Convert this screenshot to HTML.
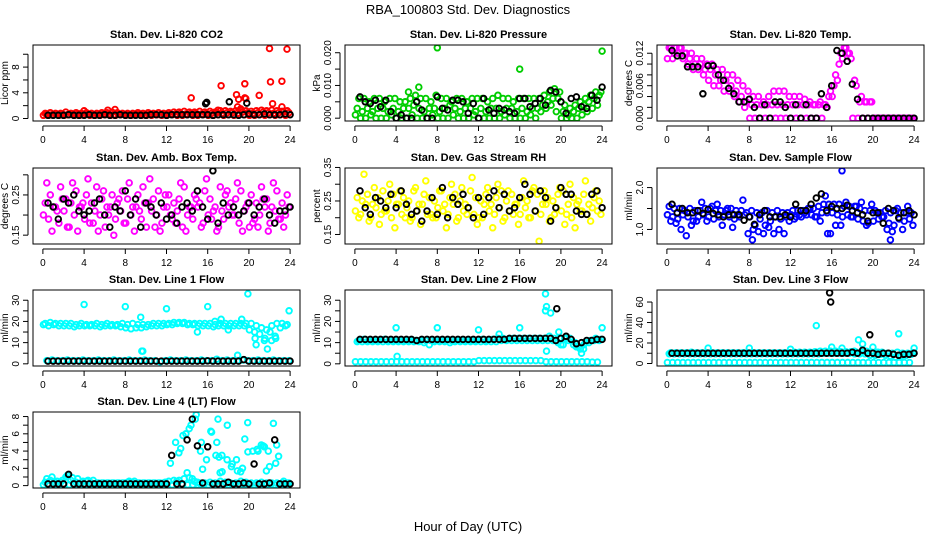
<!DOCTYPE html>
<html><head><meta charset="utf-8"><style>
html,body{margin:0;padding:0;background:#fff;}
svg{display:block;font-family:"Liberation Sans",sans-serif;}
</style></head><body>
<svg id="chart" width="936" height="540" viewBox="0 0 936 540">
<rect width="936" height="540" fill="#fff"/>
<text x="468" y="14" text-anchor="middle" font-size="13">RBA_100803  Std. Dev. Diagnostics</text>
<text x="468" y="531" text-anchor="middle" font-size="13">Hour of Day (UTC)</text>
</svg>
<script>
// half-hour grid (hours of day)
const hours = [0,0.5,1,1.5,2,2.5,3,3.5,4,4.5,5,5.5,6,6.5,7,7.5,8,8.5,9,9.5,10,10.5,11,11.5,12,12.5,13,13.5,14,14.5,15,15.5,16,16.5,17,17.5,18,18.5,19,19.5,20,20.5,21,21.5,22,22.5,23,23.5];
const xTicks = [0,4,8,12,16,20,24];

// Panel 1 CO2
const co2_c1 = [0.5,0.5,0.6,0.5,0.5,0.6,0.5,0.5,0.6,0.5,0.5,0.5,0.6,0.5,0.5,0.6,0.5,0.5,0.6,0.5,0.5,0.5,0.6,0.5,0.5,0.6,0.5,0.5,0.6,0.5,0.5,0.6,0.5,0.5,0.6,0.5,0.6,0.5,0.6,0.6,0.5,0.5,0.6,0.5,0.6,0.5,0.6,0.5];
const co2_c2 = [0.8,0.9,0.8,0.8,1.0,0.8,0.9,0.8,0.9,0.8,0.8,0.9,0.9,1.0,0.9,0.8,0.8,0.8,0.9,0.8,0.9,0.8,0.9,0.8,0.9,1.0,1.0,1.1,1.0,1.0,1.1,1.0,1.1,1.0,1.2,1.2,1.1,1.2,1.3,1.2,1.1,1.2,1.3,1.2,1.3,1.2,1.1,1.2];
const co2_c3 = [0.7,0.6,0.7,0.7,0.6,0.7,0.7,0.6,0.7,0.6,0.7,0.7,0.7,0.6,0.7,0.7,0.6,0.7,0.7,0.6,0.7,0.7,0.6,0.7,0.7,0.7,0.8,0.7,0.8,0.8,0.7,0.8,0.8,0.9,0.8,0.9,0.9,0.8,1.0,0.9,0.8,0.9,1.0,0.9,0.8,0.9,1.0,0.9];
const co2_k = [0.5,0.5,0.5,0.5,0.6,0.5,0.5,0.5,0.6,0.5,0.5,0.6,0.5,0.5,0.6,0.5,0.5,0.5,0.5,0.5,0.6,0.6,0.6,0.5,0.6,0.6,0.6,0.6,0.6,0.6,0.6,0.6,0.5,0.6,0.6,0.6,0.6,0.5,0.6,0.7,0.6,0.6,0.7,0.6,0.6,0.6,0.7,0.6];
const co2_ox = [14.4,17.3,18.8,19.0,19.6,19.6,19.7,21.0,22.0,22.1,22.3,23.2,23.7,18.9,19.2,4.0,7.0,6.3,17.0,23.2];
const co2_oy = [3.2,5.1,3.7,3.0,5.4,3.2,3.1,3.6,10.9,5.7,2.3,5.8,10.8,1.8,1.5,1.2,1.4,1.3,1.3,1.8];
const co2_kx = [15.8,15.9,18.1,19.8];
const co2_ky = [2.3,2.5,2.6,2.4];

// Panel 2 Pressure
const pr_c1 = [0.001,0,0,0.001,0,0,0,0.001,0,0,0,0.001,0,0,0,0.001,0,0,0,0.001,0,0,0,0.001,0,0,0,0,0,0.001,0,0,0,0,0.001,0,0.002,0.003,0.004,0.002,0,0,0,0,0.001,0.002,0.003,0.004];
const pr_c2 = [0.003,0.002,0.003,0.002,0.003,0.003,0.002,0.003,0.002,0.003,0.003,0.004,0.003,0.002,0.003,0.003,0.002,0.003,0.004,0.003,0.002,0.003,0.003,0.002,0.003,0.002,0.003,0.003,0.002,0.003,0.003,0.002,0.003,0.002,0.003,0.003,0.004,0.005,0.006,0.006,0.002,0.001,0.002,0.003,0.004,0.005,0.006,0.007];
const pr_c3 = [0.006,0.006,0.005,0.006,0.006,0.005,0.006,0.006,0.005,0.005,0.006,0.007,0.006,0.006,0.005,0.007,0.006,0.006,0.005,0.006,0.006,0.005,0.006,0.006,0.006,0.005,0.006,0.007,0.006,0.006,0.005,0.006,0.006,0.006,0.006,0.006,0.007,0.008,0.009,0.008,0.004,0.003,0.004,0.005,0.006,0.007,0.008,0.008];
const pr_k = [0.0065,0.005,0.0045,0.0055,0.0035,0.0055,0.002,0,0.001,0,0,0.005,0.0025,0,0,0.0065,0.003,0.0025,0.0055,0.0055,0.005,0.0015,0.0045,0,0.006,0.0025,0.0015,0.003,0.0025,0.002,0.0015,0.006,0.006,0.0035,0.0045,0.006,0.004,0.0085,0.008,0.005,0.0015,0.006,0.0065,0.0035,0.003,0.007,0.0055,0.0095];
const pr_ox = [8.0,16.0,24.0,6.2,5.2];
const pr_oy = [0.0215,0.015,0.0205,0.0095,0.008];
const pr_kx = [];
const pr_ky = [];

// Panel 3 Li-820 Temp
const tp_c1 = [0.011,0.011,0.012,0.011,0.010,0.009,0.009,0.008,0.007,0.006,0.006,0.005,0.005,0.004,0.003,0.002,0,0,0,0,0,0,0,0,0,0,0,0,0,0,0,0.002,0.004,0.007,0.011,0.012,0,0,0,0,0,0,0,0,0,0,0,0];
const tp_c2 = [0.013,0.012,0.013,0.012,0.011,0.010,0.010,0.009,0.009,0.008,0.007,0.007,0.006,0.005,0.004,0.003,0.0025,0.0025,0.0025,0.0025,0.0025,0.0025,0.0025,0.0025,0.0025,0.0025,0.0025,0.0025,0.0025,0.0025,0.0025,0.004,0.006,0.010,0.013,0.012,0.007,0.003,0.003,0.003,0,0,0,0,0,0,0,0];
const tp_c3 = [0.013,0.013,0.013,0.012,0.012,0.011,0.011,0.010,0.010,0.009,0.009,0.008,0.008,0.007,0.006,0.005,0.004,0.004,0.003,0.004,0.005,0.005,0.005,0.004,0.004,0.004,0.0035,0.003,0.0025,0.003,0.0025,0.005,0.008,0.012,0.013,0.011,0.006,0.004,0.003,0.003,0,0,0,0,0,0,0,0];
const tp_k = [0.0125,0.0115,0.0115,0.0095,0.0095,0.0095,0.0045,0.0097,0.0097,0.008,0.007,0.0055,0.0045,0.003,0.003,0.0035,0.002,0,0.0025,0,0.003,0.003,0.002,0,0.0025,0,0.0025,0,0,0.0045,0.002,0.006,0.0125,0.012,0.0105,0.0063,0.0035,0,0,0,0,0,0,0,0,0,0,0];
const tp_ox = [];
const tp_oy = [];
const tp_kx = [];
const tp_ky = [];

// Panel 4 Amb. Box Temp
const ab_c1 = [0.20,0.19,0.22,0.18,0.21,0.17,0.20,0.22,0.19,0.18,0.21,0.20,0.17,0.22,0.19,0.21,0.18,0.20,0.22,0.19,0.17,0.21,0.20,0.18,0.22,0.19,0.21,0.17,0.20,0.19,0.22,0.18,0.20,0.21,0.17,0.19,0.22,0.20,0.18,0.21,0.17,0.19,0.20,0.22,0.18,0.21,0.19,0.20];
const ab_c2 = [0.23,0.25,0.22,0.27,0.24,0.23,0.26,0.22,0.25,0.23,0.27,0.24,0.22,0.25,0.23,0.26,0.24,0.22,0.25,0.27,0.23,0.24,0.26,0.22,0.25,0.23,0.24,0.27,0.22,0.25,0.23,0.26,0.24,0.22,0.27,0.25,0.23,0.24,0.26,0.22,0.25,0.23,0.27,0.24,0.22,0.26,0.23,0.25];
const ab_c3 = [0.28,0.16,0.21,0.24,0.17,0.28,0.16,0.23,0.29,0.18,0.16,0.26,0.20,0.15,0.24,0.18,0.28,0.16,0.21,0.23,0.29,0.17,0.16,0.25,0.20,0.18,0.28,0.16,0.22,0.24,0.17,0.29,0.19,0.16,0.21,0.26,0.20,0.28,0.16,0.23,0.18,0.17,0.24,0.16,0.28,0.19,0.17,0.22];
const ab_k = [0.23,0.22,0.19,0.24,0.23,0.25,0.21,0.20,0.21,0.23,0.24,0.20,0.17,0.22,0.21,0.26,0.20,0.24,0.17,0.23,0.22,0.20,0.23,0.19,0.20,0.18,0.22,0.23,0.21,0.26,0.22,0.19,0.31,0.18,0.23,0.20,0.22,0.20,0.21,0.23,0.20,0.22,0.24,0.20,0.18,0.21,0.21,0.22];
const ab_ox = [];
const ab_oy = [];
const ab_kx = [];
const ab_ky = [];

// Panel 5 Gas Stream RH
const rh_c1 = [0.22,0.21,0.24,0.20,0.23,0.21,0.22,0.20,0.24,0.21,0.23,0.20,0.22,0.24,0.21,0.20,0.23,0.22,0.21,0.24,0.20,0.22,0.23,0.21,0.20,0.24,0.22,0.21,0.23,0.20,0.22,0.24,0.21,0.23,0.20,0.22,0.21,0.24,0.20,0.23,0.22,0.21,0.20,0.24,0.22,0.21,0.23,0.22];
const rh_c2 = [0.26,0.25,0.27,0.24,0.26,0.28,0.25,0.27,0.24,0.26,0.25,0.28,0.24,0.27,0.26,0.25,0.28,0.24,0.26,0.27,0.25,0.24,0.28,0.26,0.25,0.27,0.24,0.26,0.28,0.25,0.27,0.24,0.26,0.25,0.28,0.27,0.24,0.26,0.25,0.27,0.28,0.24,0.26,0.25,0.27,0.24,0.26,0.25];
const rh_c3 = [0.20,0.33,0.19,0.29,0.18,0.22,0.30,0.17,0.28,0.20,0.19,0.29,0.18,0.31,0.21,0.20,0.28,0.17,0.30,0.19,0.29,0.21,0.32,0.18,0.20,0.29,0.17,0.30,0.19,0.28,0.21,0.18,0.31,0.20,0.29,0.13,0.28,0.19,0.21,0.29,0.18,0.30,0.17,0.22,0.31,0.19,0.28,0.21];
const rh_k = [0.28,0.23,0.21,0.26,0.25,0.23,0.27,0.23,0.28,0.24,0.21,0.22,0.19,0.22,0.26,0.21,0.29,0.20,0.26,0.24,0.27,0.23,0.20,0.26,0.21,0.26,0.28,0.23,0.27,0.22,0.23,0.26,0.30,0.27,0.22,0.28,0.26,0.19,0.23,0.29,0.27,0.27,0.22,0.21,0.21,0.27,0.28,0.23];
const rh_ox = [];
const rh_oy = [];
const rh_kx = [];
const rh_ky = [];

// Panel 6 Sample Flow
const sf_c1 = [1.35,1.3,1.25,1.35,1.3,1.2,1.3,1.35,1.3,1.25,1.3,1.35,1.3,1.25,1.3,1.35,1.3,1.1,1.25,1.1,1.2,1.3,1.25,1.3,1.35,1.3,1.3,1.35,1.35,1.3,1.4,1.4,1.4,1.35,1.3,1.35,1.3,1.25,1.2,1.15,1.2,1.25,1.3,1.15,1.1,1.25,1.2,1.25];
const sf_c2 = [1.55,1.5,1.5,1.45,1.5,1.45,1.45,1.5,1.5,1.45,1.45,1.45,1.5,1.45,1.45,1.4,1.45,1.4,1.4,1.45,1.4,1.45,1.4,1.4,1.45,1.45,1.45,1.5,1.5,1.55,1.6,1.6,1.6,1.6,1.55,1.55,1.55,1.5,1.45,1.45,1.45,1.4,1.45,1.4,1.45,1.4,1.4,1.4];
const sf_c3 = [1.2,1.15,1.0,0.85,1.1,1.2,1.65,1.2,1.55,1.6,1.1,1.5,1.05,1.35,1.7,0.9,1.0,0.95,0.9,1.05,0.9,1.0,0.9,1.2,1.25,1.35,1.4,1.5,1.3,1.2,1.8,0.9,1.1,1.1,1.65,1.3,1.55,1.65,1.1,1.6,1.4,1.3,1.0,0.95,1.5,1.0,1.55,1.1];
const sf_k = [1.6,1.4,1.5,1.4,1.4,1.45,1.38,1.48,1.38,1.35,1.3,1.35,1.35,1.35,1.22,1.3,1.12,1.35,1.45,1.3,1.3,1.3,1.35,1.3,1.6,1.45,1.45,1.6,1.75,1.85,1.45,1.55,1.5,1.5,1.58,1.45,1.4,1.35,1.2,1.4,1.4,1.15,1.5,1.45,1.28,1.4,1.45,1.35];
const sf_ox = [17.0,8.3,21.7,15.6];
const sf_oy = [2.4,0.75,0.75,0.9];
const sf_kx = [];
const sf_ky = [];

// Panel 7 Line 1 Flow
const l1_c1 = [18.5,18,18.5,18,18,18,17.5,18,18,18,18,17.5,18,18,18,17.5,17,16.5,17,17,17.5,18,18,18,18.5,18.5,19,19,18.5,18.5,18,18,18,17.5,18,18,18,18,18,18,16,15,14,12,15,13,17,18];
const l1_c2 = [19,19.5,19,19,19,19,18.5,19,18.5,18.5,19,18.5,19,18.5,18.5,19,18.5,19,18.5,18.5,18.5,19,19,19,19,19.5,19.5,19.5,19,19,19,19,19,18.5,19,19,19,19,19,19,19,18,17,16,18,19,19,18.5];
const l1_c3 = [1.5,1.8,1.5,1.5,1.8,1.5,1.5,1.8,1.5,1.5,1.8,1.5,1.5,1.8,1.5,1.5,1.8,1.5,1.5,1.8,1.5,1.5,1.0,1.5,1.8,1.5,1.5,1.8,1.5,1.5,1.8,1.5,1.5,2.2,1.5,1.8,1.5,1.5,1.8,1.5,1.5,1.8,1.5,1.5,1.8,1.5,1.5,1.5];
const l1_k = [1.3,1.3,1.3,1.3,1.3,1.3,1.3,1.3,1.3,1.3,1.3,1.3,1.3,1.3,1.3,1.3,1.3,1.3,1.3,1.3,1.3,1.3,1.3,1.3,1.3,1.3,1.3,1.3,1.3,1.3,1.3,1.4,1.3,1.3,1.3,1.3,1.3,1.3,2.0,1.3,1.3,1.3,1.3,1.3,1.3,1.3,1.3,1.3];
const l1_ox = [4.0,8.0,9.5,9.6,9.7,12.0,15.0,16.0,16.7,17.3,18.0,18.9,19.3,19.9,20.6,20.7,21.5,21.8,22.2,22.6,23.9];
const l1_oy = [28,27,22,6,6,26,15,27,20,21,16,4,21,33,12,9,11,7,11,12,25];
const l1_kx = [];
const l1_ky = [];

// Panel 8 Line 2 Flow
const l2_c1 = [1,1,1,1,1,1,1,1,1,1,1,1,1,1,1,1,1,1,1,1,1,1,1,1,1.5,1.5,1.5,1.5,1.5,1.5,1.5,1.5,1.5,1.5,1.5,1.5,1.5,1,1,1,1,1,1,1,1,1,0.8,0.8];
const l2_c2 = [10.5,10.5,10.5,10.5,10.5,10.5,10.5,10.5,10.5,10.5,10.5,10.5,10.5,10,9,10.5,10.5,10.5,10,10.5,10.5,10.5,10.5,10.5,10.5,10.5,10.5,10.5,11,11,11,11,11,11,11,11,11,11,11,10,9,11,9,8,9,10,11,11];
const l2_c3 = [11,11.5,11,11,11,11.5,11,11,11,11,11,11,11,11,11,11,11,11,11,11,11,11,11,11,11.5,11,11.5,12,12,11.5,12,12,12,12,12,12,12,13,12,12,12,12,10,7,10,11,12,11.5];
const l2_k = [11.5,11.5,11.5,11.5,11.5,11.5,11.5,11.5,11.5,11.5,11.5,11,11.5,11.5,11.5,11.5,11.5,11.5,11.5,11.5,11.5,11.5,11.5,11.5,11.5,11.5,11.5,11.5,11.5,12,12,12,12,12,12,12,12,12,11,12,13,11.5,9.5,10,11,11,11.5,11.5];
const l2_ox = [4.0,8.0,12.0,16.0,18.5,18.6,18.5,19.0,18.6,19.8,20.5,21.5,22.0,22.2,24.0,14.0,20.0,4.1];
const l2_oy = [17,17,16,17,33,27,25,24,6,15,12,8,5,7,17,14,9,3.5];
const l2_kx = [19.6];
const l2_ky = [26];

// Panel 9 Line 3 Flow
const l3_c1 = [1,1,1,1,1,1,1,1,1,1,1,1,1,1,1,1,1,1,1,1,1,1,1,1,1,1,1,1,1,1,1,1,1,1,1,1,1,1,1,1,1,1,1,1,1,1,1,1];
const l3_c2 = [9.5,9.5,9.5,9.5,9.5,9.5,9.5,9.5,9.5,9.5,9.5,9.5,9.5,9.5,9.5,9.5,9.5,9.5,9.5,9.5,9.5,9.5,9.5,9.5,9.5,9.5,9.5,9.5,9.5,9.5,10,10,10,10,10,10,9.5,9.5,9.5,8,8,9,8,7,6,7,8,9];
const l3_c3 = [10.5,10.5,10.5,10.5,11,10.5,10.5,10.5,10.5,10.5,10.5,10.5,10.5,10.5,10.5,10.5,10.5,10.5,10.5,10.5,10.5,10.5,10.5,10.5,11,11,11,11,11.5,12,12,12,12,11.5,11.5,11.5,11,11,12,11,11,11,10,10,11,10,10,10.5];
const l3_k = [10,10,10,10,10,10,10,10,10,10,10,10,10,10,10,10,10,10,10,10,10,10,10,10,10,10,10,10,10,10,10,10,10,10,10,11,10,13,10,10,9,10,10,9,8,9,9,10];
const l3_ox = [14.5,20.0,4.0,8.0,12.0,16.0,18.6,19.0,22.5,24.0,17.0,18.2,20.5];
const l3_oy = [37,16,15,15,14,16,23,19,29,15,15,12,11];
const l3_kx = [15.8,15.9,19.7];
const l3_ky = [69,60,28];

// Panel 10 Line 4 (LT) Flow
const l4_c1 = [0.1,0.1,0.1,0.1,0.1,0.1,0.1,0.1,0.1,0.1,0.1,0.1,0.1,0.1,0.1,0.1,0.1,0.1,0.1,0.1,0.1,0.1,0.1,0.1,0.1,0.1,0.1,0.1,0.1,0.1,0.1,0.1,0.1,0.1,0.1,0.1,0.1,0.1,0.1,0.1,0.1,0.1,0.1,0.1,0.1,0.1,0.1,0.1];
const l4_c2 = [0.4,0.6,0.3,0.4,1.0,0.6,0.4,0.3,0.5,0.3,0.3,0.3,0.3,0.3,0.3,0.3,0.4,0.3,0.3,0.3,0.3,0.3,0.3,0.3,0.5,0.6,0.6,0.8,0.9,0.5,0.3,0.3,0.4,0.3,0.5,0.4,0.3,0.3,0.5,0.4,0.3,0.3,0.4,0.3,0.3,0.3,0.3,0.3];
const l4_c3 = [0.8,1.0,0.5,0.6,1.2,0.9,0.8,0.5,0.6,0.6,0.3,0.3,0.3,0.3,0.3,0.3,0.5,0.5,0.3,0.3,0.3,0.3,0.3,0.4,2.6,5.0,4.3,6.0,7.0,8.2,5.0,3.0,6.2,5.0,3.5,3.0,2.5,1.7,2.0,7.3,4.0,4.0,4.6,4.0,7.2,3.4,0.5,0.3];
const l4_k = [0.2,0.2,0.2,0.2,1.3,0.2,0.2,0.2,0.2,0.2,0.2,0.2,0.2,0.2,0.2,0.2,0.2,0.2,0.2,0.2,0.2,0.2,0.2,0.2,3.5,0.2,0.2,5.3,7.7,4.6,0.3,4.5,0.2,0.2,0.2,0.4,0.2,0.2,0.3,0.2,2.5,0.2,0.2,0.3,5.3,0.2,0.2,0.2];
const l4_ox = [13.2,13.6,14.2,14.8,15.3,15.5,16.3,17.0,17.1,17.4,17.9,18.3,18.8,19.2,19.6,19.9,20.8,21.2,21.5,21.7,22.0,22.6,22.7,16.8,17.2,13.0,14.0,14.5,15.0];
const l4_oy = [3.8,5.8,6.6,7.7,4.0,1.9,6.3,7.7,3.3,1.6,7.0,2.2,3.0,1.6,5.4,3.9,4.2,4.7,4.5,1.7,2.2,2.6,4.7,3.5,1.5,0.5,1.5,0.8,0.4];
const l4_kx = [];
const l4_ky = [];

const panels = [
 {name:'co2', title:'Stan. Dev. Li-820 CO2', ylab:'Licor ppm', col:'#ff0000', ylim:[0.05,11.0], ticks:[0,2,4,6,8,10], labs:[0,4,8], fmt:v=>String(v), r:0,c:0, s:[co2_c1,co2_c2,co2_c3], k:co2_k, ox:co2_ox, oy:co2_oy, kx:co2_kx, ky:co2_ky},
 {name:'pressure', title:'Stan. Dev. Li-820 Pressure', ylab:'kPa', col:'#00cd00', ylim:[0,0.0215], ticks:[0,0.005,0.01,0.015,0.02], labs:[0,0.01,0.02], fmt:v=>v.toFixed(3), r:0,c:1, s:[pr_c1,pr_c2,pr_c3], k:pr_k, ox:pr_ox, oy:pr_oy, kx:pr_kx, ky:pr_ky},
 {name:'li820-temp', title:'Stan. Dev. Li-820 Temp.', ylab:'degrees C', col:'#ff00ff', ylim:[0,0.013], ticks:[0,0.002,0.004,0.006,0.008,0.01,0.012], labs:[0,0.006,0.012], fmt:v=>v.toFixed(3), r:0,c:2, s:[tp_c1,tp_c2,tp_c3], k:tp_k, ox:tp_ox, oy:tp_oy, kx:tp_kx, ky:tp_ky},
 {name:'amb-box-temp', title:'Stan. Dev. Amb. Box Temp.', ylab:'degrees C', col:'#ff00ff', ylim:[0.135,0.31], ticks:[0.15,0.2,0.25,0.3], labs:[0.15,0.25], fmt:v=>v.toFixed(2), r:1,c:0, s:[ab_c1,ab_c2,ab_c3], k:ab_k, ox:ab_ox, oy:ab_oy, kx:ab_kx, ky:ab_ky},
 {name:'gas-rh', title:'Stan. Dev. Gas Stream RH', ylab:'percent', col:'#ffff00', ylim:[0.13,0.34], ticks:[0.15,0.2,0.25,0.3,0.35], labs:[0.15,0.25,0.35], fmt:v=>v.toFixed(2), r:1,c:1, s:[rh_c1,rh_c2,rh_c3], k:rh_k, ox:rh_ox, oy:rh_oy, kx:rh_kx, ky:rh_ky},
 {name:'sample-flow', title:'Stan. Dev. Sample Flow', ylab:'ml/min', col:'#0000ff', ylim:[0.72,2.4], ticks:[1.0,1.5,2.0], labs:[1.0,2.0], fmt:v=>v.toFixed(1), r:1,c:2, s:[sf_c1,sf_c2,sf_c3], k:sf_k, ox:sf_ox, oy:sf_oy, kx:sf_kx, ky:sf_ky},
 {name:'line1-flow', title:'Stan. Dev. Line 1 Flow', ylab:'ml/min', col:'#00ffff', ylim:[0.3,33.5], ticks:[0,5,10,15,20,25,30], labs:[0,10,20,30], fmt:v=>String(v), r:2,c:0, s:[l1_c1,l1_c2,l1_c3], k:l1_k, ox:l1_ox, oy:l1_oy, kx:l1_kx, ky:l1_ky},
 {name:'line2-flow', title:'Stan. Dev. Line 2 Flow', ylab:'ml/min', col:'#00ffff', ylim:[0.3,33.5], ticks:[0,5,10,15,20,25,30], labs:[0,10,20,30], fmt:v=>String(v), r:2,c:1, s:[l2_c1,l2_c2,l2_c3], k:l2_k, ox:l2_ox, oy:l2_oy, kx:l2_kx, ky:l2_ky},
 {name:'line3-flow', title:'Stan. Dev. Line 3 Flow', ylab:'ml/min', col:'#00ffff', ylim:[0.3,69], ticks:[0,10,20,30,40,50,60], labs:[0,20,40,60], fmt:v=>String(v), r:2,c:2, s:[l3_c1,l3_c2,l3_c3], k:l3_k, ox:l3_ox, oy:l3_oy, kx:l3_kx, ky:l3_ky},
 {name:'line4-flow', title:'Stan. Dev. Line 4 (LT) Flow', ylab:'ml/min', col:'#00ffff', ylim:[0.05,8.2], ticks:[0,1,2,3,4,5,6,7,8], labs:[0,2,4,6,8], fmt:v=>String(v), r:3,c:0, s:[l4_c1,l4_c2,l4_c3], k:l4_k, ox:l4_ox, oy:l4_oy, kx:l4_kx, ky:l4_ky}
];

const NS = 'http://www.w3.org/2000/svg';
const svg = document.getElementById('chart');
const colX = [33,345,657], rowY = [45,168,290,412], W = 267, Hh = 76;
const offsets = [0,0.17,0.33];
function mk(tag, attrs, parent){ const e=document.createElementNS(NS,tag); for(const k in attrs) e.setAttribute(k,attrs[k]); parent.appendChild(e); return e; }

panels.forEach(p=>{
  const x0=colX[p.c], y0=rowY[p.r];
  const g = mk('g',{},svg);
  
  
  const sx = t => x0 + (t + 0.96) / 25.92 * W;
  const span = p.ylim[1]-p.ylim[0];
  const sy = v => y0 + Hh - (v - p.ylim[0] + 0.04*span) / (span*1.08) * Hh;
  const clip = 'clip-'+p.name;
  const cp = mk('clipPath',{id:clip},g); mk('rect',{x:x0,y:y0,width:W,height:Hh},cp);
  const pts = mk('g',{'clip-path':'url(#'+clip+')'},g);
  
  
  function dot(t,v,col,nm){
    const c = mk('circle',{cx:sx(t).toFixed(1),cy:sy(v).toFixed(1),r:2.8,fill:'none',stroke:col,'stroke-width':1.9},pts);
    
    
  }
  p.s.forEach((arr,j)=>arr.forEach((v,i)=>dot(hours[i]+offsets[j]+0.05,v,p.col,p.name+'-point')));
  p.ox.forEach((t,i)=>dot(t,p.oy[i],p.col,p.name+'-outlier'));
  p.k.forEach((v,i)=>dot(hours[i]+0.5,v,'#000',p.name+'-hourly-point'));
  p.kx.forEach((t,i)=>dot(t,p.ky[i],'#000',p.name+'-hourly-outlier'));
  const box = mk('rect',{x:x0,y:y0,width:W,height:Hh,fill:'none',stroke:'#000','stroke-width':1},g);
  
  
  const tt = mk('text',{x:x0+W/2,y:y0-7,'text-anchor':'middle','font-size':11,'font-weight':'bold'},g);
  tt.textContent = p.title;
  
  
  mk('line',{x1:sx(0),x2:sx(24),y1:y0+Hh+5,y2:y0+Hh+5,stroke:'#000'},g);
  xTicks.forEach(t=>{
    mk('line',{x1:sx(t),x2:sx(t),y1:y0+Hh+5,y2:y0+Hh+10,stroke:'#000'},g);
    const l = mk('text',{x:sx(t),y:y0+Hh+22,'text-anchor':'middle','font-size':10},g);
    l.textContent = t;
    
    
  });
  const ax = x0-5;
  mk('line',{x1:ax,x2:ax,y1:sy(p.ticks[0]),y2:sy(p.ticks[p.ticks.length-1]),stroke:'#000'},g);
  p.ticks.forEach(v=>mk('line',{x1:ax-5,x2:ax,y1:sy(v),y2:sy(v),stroke:'#000'},g));
  p.labs.forEach(v=>{
    const yy = sy(v);
    const l = mk('text',{x:x0-14,y:yy,'text-anchor':'middle','font-size':10,transform:'rotate(-90 '+(x0-14)+' '+yy+')'},g);
    l.textContent = p.fmt(v);
    
    
  });
  const yl = mk('text',{x:x0-25,y:y0+Hh/2,'text-anchor':'middle','font-size':10,transform:'rotate(-90 '+(x0-25)+' '+(y0+Hh/2)+')'},g);
  yl.textContent = p.ylab;
  
  
});
</script>
</body></html>
